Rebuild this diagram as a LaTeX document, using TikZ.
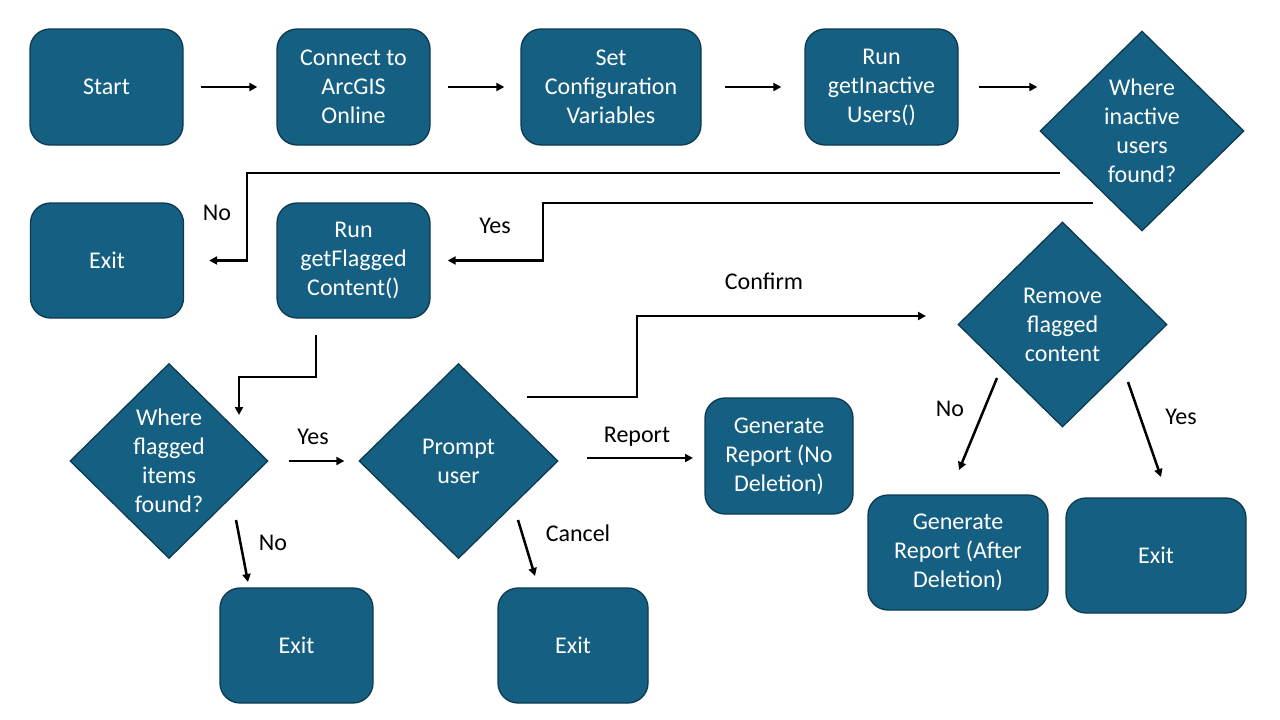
\documentclass[tikz,border=0pt]{standalone}
\usepackage{fontspec}
\setmainfont{Carlito}
\usetikzlibrary{shapes,shapes.geometric,arrows.meta,positioning}
\usepackage{xcolor}
\definecolor{boxfill}{HTML}{156082}
\definecolor{boxline}{HTML}{0C3A4F}

\begin{document}
\begin{tikzpicture}[x=1pt, y=-1pt,
    font=\fontsize{24}{29}\selectfont,
    box/.style={draw=boxline, fill=boxfill, line width=1.3, rounded corners=20,
        minimum width=153, minimum height=116, inner sep=0, text=white, align=center},
    decision/.style={diamond, draw=boxline, fill=boxfill, line width=1.3,
        minimum width=204, minimum height=200, inner sep=0, text=white, align=center},
    arr/.style={-{Triangle[length=8,width=8]}, line width=2.5}]

    \fill[white] (0,0) rectangle (1280,720);
    \useasboundingbox (0,0) rectangle (1280,720);

    % top row
    \node[box] (start) at (106.5,87) {Start};
    \node[box] (arcgis) at (353.5,87) {Connect to\\ArcGIS\\Online};
    \node[box, minimum width=180] (config) at (611,87) {Set\\Configuration\\Variables};
    \node[box] (inactive) at (881.5,87) {Run\\getInactive\\Users()};
    \node[decision] (usersq) at (1142,131) {Where\\inactive\\users\\found?};

    % second row
    \node[box, minimum height=115] (exitA) at (107,260.5) {Exit};
    \node[box, minimum height=115] (flagged) at (353.5,260.5) {Run\\getFlagged\\Content()};

    % lower part
    \node[decision, minimum width=198, minimum height=195] (itemsq) at (169,461) {Where\\flagged\\items\\found?};
    \node[decision, minimum width=199, minimum height=195] (prompt) at (458.5,461) {Prompt\\user};
    \node[box, minimum height=115] (exitB) at (296.5,645.5) {Exit};
    \node[box, minimum width=150, minimum height=115] (exitC) at (573,645.5) {Exit};
    \node[box, minimum width=148] (repNo) at (779,456) {Generate\\Report (No\\Deletion)};
    \node[decision, minimum width=209, minimum height=205] (removeq) at (1062.5,324.5) {Remove\\flagged\\content};
    \node[box, minimum width=180, minimum height=115] (repAfter) at (958,552.5) {Generate\\Report (After\\Deletion)};
    \node[box, minimum width=180, minimum height=115] (exitD) at (1156,555.5) {Exit};

    % free ends of the connectors
    \coordinate (noA) at (1060,173);
    \coordinate (noB) at (247,173);
    \coordinate (yesA) at (1093,203);
    \coordinate (yesB) at (543,203);
    \coordinate (flagA) at (316,335);
    \coordinate (flagB) at (239,377);
    \coordinate (flagC) at (239,415);
    \coordinate (itemsNo) at (236,520);
    \coordinate (exitBin) at (248,582);
    \coordinate (cancelA) at (518,520);
    \coordinate (exitCin) at (535,576);
    \coordinate (reportA) at (587,458);
    \coordinate (repNoIn) at (693,458);
    \coordinate (confA) at (527,397);
    \coordinate (confB) at (637,316);
    \coordinate (removeIn) at (926,316);
    \coordinate (remNo) at (997,378);
    \coordinate (repAfterIn) at (959,470);
    \coordinate (remYes) at (1128,382);
    \coordinate (exitDin) at (1161,477);

    \draw[arr, shorten <=17, shorten >=19] (start) -- (arcgis);
    \draw[arr, shorten <=17, shorten >=16] (arcgis) -- (config);
    \draw[arr, shorten <=23, shorten >=23] (config) -- (inactive);
    \draw[arr, shorten <=20, shorten >=2] (inactive.east) -- (inactive.east -| usersq.west);

    \draw[arr, shorten >=25] (noA) -- (noB) |- (exitA);
    \draw[arr, shorten >=17] (yesA) -- (yesB) |- (flagged);
    \draw[arr] (flagA) |- (flagB) -- (flagC);

    \draw[arr, shorten <=20, shorten >=14] (itemsq) -- (prompt);
    \draw[arr] (itemsNo) -- (exitBin);
    \draw[arr] (cancelA) -- (exitCin);
    \draw[arr] (reportA) -- (repNoIn);
    \draw[arr] (confA) -| (confB) -- (removeIn);
    \draw[arr] (remNo) -- (repAfterIn);
    \draw[arr] (remYes) -- (exitDin);

    \node at (217,213) {No};
    \node at (495,226) {Yes};
    \node at (313,437) {Yes};
    \node at (273,543) {No};
    \node at (578,533) {Cancel};
    \node at (637,437) {Report};
    \node at (764,281) {Confirm};
    \node at (950,409) {No};
    \node at (1181,417) {Yes};
\end{tikzpicture}
\end{document}
